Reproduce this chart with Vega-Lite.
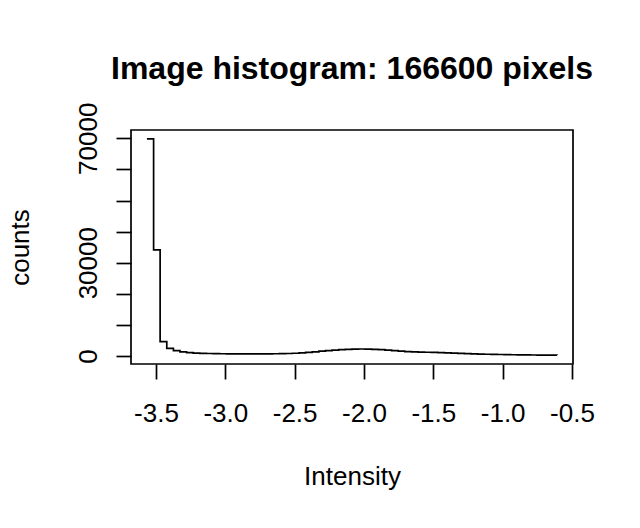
{
  "$schema": "https://vega.github.io/schema/vega-lite/v6.json",
  "autosize": {"type": "none"},
  "width": 442,
  "height": 234,
  "padding": {"left": 131, "top": 130, "right": 67, "bottom": 164},
  "background": "white",
  "config": {
    "view": {"stroke": "black", "strokeWidth": 1.7},
    "font": "Liberation Sans"
  },
  "title": {
    "text": "Image histogram: 166600 pixels",
    "fontSize": 32,
    "fontWeight": "bold",
    "font": "Liberation Sans",
    "color": "black",
    "anchor": "middle",
    "baseline": "alphabetic",
    "offset": -9
  },
  "data": {
    "values": [
      {"intensity": -3.565, "counts": 69800},
      {"intensity": -3.517, "counts": 34100},
      {"intensity": -3.470, "counts": 4600},
      {"intensity": -3.422, "counts": 2470},
      {"intensity": -3.374, "counts": 1700},
      {"intensity": -3.327, "counts": 1300},
      {"intensity": -3.279, "counts": 1080},
      {"intensity": -3.231, "counts": 950},
      {"intensity": -3.184, "counts": 860},
      {"intensity": -3.136, "counts": 800},
      {"intensity": -3.088, "counts": 760},
      {"intensity": -3.041, "counts": 730},
      {"intensity": -2.993, "counts": 710},
      {"intensity": -2.945, "counts": 700},
      {"intensity": -2.898, "counts": 690},
      {"intensity": -2.850, "counts": 690},
      {"intensity": -2.802, "counts": 690},
      {"intensity": -2.755, "counts": 700},
      {"intensity": -2.707, "counts": 710},
      {"intensity": -2.659, "counts": 730},
      {"intensity": -2.611, "counts": 760},
      {"intensity": -2.564, "counts": 800},
      {"intensity": -2.516, "counts": 880},
      {"intensity": -2.468, "counts": 1000},
      {"intensity": -2.421, "counts": 1150},
      {"intensity": -2.373, "counts": 1350},
      {"intensity": -2.325, "counts": 1550},
      {"intensity": -2.278, "counts": 1750},
      {"intensity": -2.230, "counts": 1920},
      {"intensity": -2.182, "counts": 2050},
      {"intensity": -2.135, "counts": 2150},
      {"intensity": -2.087, "counts": 2220},
      {"intensity": -2.039, "counts": 2250},
      {"intensity": -1.992, "counts": 2230},
      {"intensity": -1.944, "counts": 2150},
      {"intensity": -1.896, "counts": 2030},
      {"intensity": -1.849, "counts": 1880},
      {"intensity": -1.801, "counts": 1720},
      {"intensity": -1.753, "counts": 1560},
      {"intensity": -1.706, "counts": 1420},
      {"intensity": -1.658, "counts": 1320},
      {"intensity": -1.610, "counts": 1250},
      {"intensity": -1.563, "counts": 1200},
      {"intensity": -1.515, "counts": 1140},
      {"intensity": -1.467, "counts": 1080},
      {"intensity": -1.419, "counts": 1010},
      {"intensity": -1.372, "counts": 940},
      {"intensity": -1.324, "counts": 860},
      {"intensity": -1.276, "counts": 780},
      {"intensity": -1.229, "counts": 700},
      {"intensity": -1.181, "counts": 630},
      {"intensity": -1.133, "counts": 570},
      {"intensity": -1.086, "counts": 520},
      {"intensity": -1.038, "counts": 480},
      {"intensity": -0.990, "counts": 440},
      {"intensity": -0.943, "counts": 410},
      {"intensity": -0.895, "counts": 380},
      {"intensity": -0.847, "counts": 350},
      {"intensity": -0.800, "counts": 320},
      {"intensity": -0.752, "counts": 300},
      {"intensity": -0.704, "counts": 270},
      {"intensity": -0.657, "counts": 250},
      {"intensity": -0.609, "counts": 230}
    ]
  },
  "mark": {"type": "line", "interpolate": "step-after", "color": "black", "strokeWidth": 1.7},
  "encoding": {
    "x": {
      "field": "intensity",
      "type": "quantitative",
      "scale": {"domain": [-3.68, -0.493], "nice": false, "zero": false},
      "axis": {
        "title": "Intensity",
        "values": [-3.5, -3, -2.5, -2, -1.5, -1, -0.5],
        "labelExpr": "replace(format(datum.value, '.1f'), '\u2212', '-')",
        "grid": false,
        "domain": false,
        "tickColor": "black",
        "tickSize": 15,
        "tickWidth": 1.7,
        "labelFont": "Liberation Sans",
        "labelFontSize": 26,
        "labelColor": "black",
        "labelPadding": 42,
        "labelBaseline": "alphabetic",
        "labelOverlap": false,
        "labelFlush": false,
        "titleFont": "Liberation Sans",
        "titleFontSize": 26,
        "titleFontWeight": "normal",
        "titleColor": "black",
        "titleX": 221,
        "titleY": 120,
        "titleBaseline": "alphabetic",
        "titleAlign": "center"
      }
    },
    "y": {
      "field": "counts",
      "type": "quantitative",
      "scale": {"domain": [-2572, 72670], "nice": false, "zero": false},
      "axis": {
        "title": "counts",
        "values": [0, 10000, 20000, 30000, 40000, 50000, 60000, 70000],
        "labelExpr": "datum.value == 0 || datum.value == 30000 || datum.value == 70000 ? format(datum.value, 'd') : ''",
        "grid": false,
        "domain": false,
        "tickColor": "black",
        "tickSize": 15,
        "tickWidth": 1.7,
        "labelFont": "Liberation Sans",
        "labelFontSize": 26,
        "labelColor": "black",
        "labelAngle": -90,
        "labelAlign": "center",
        "labelBaseline": "alphabetic",
        "labelPadding": 20,
        "labelOverlap": false,
        "labelFlush": false,
        "titleFont": "Liberation Sans",
        "titleFontSize": 26,
        "titleFontWeight": "normal",
        "titleColor": "black",
        "titleAngle": -90,
        "titleX": -103,
        "titleY": 117,
        "titleBaseline": "alphabetic",
        "titleAlign": "center"
      }
    }
  }
}
